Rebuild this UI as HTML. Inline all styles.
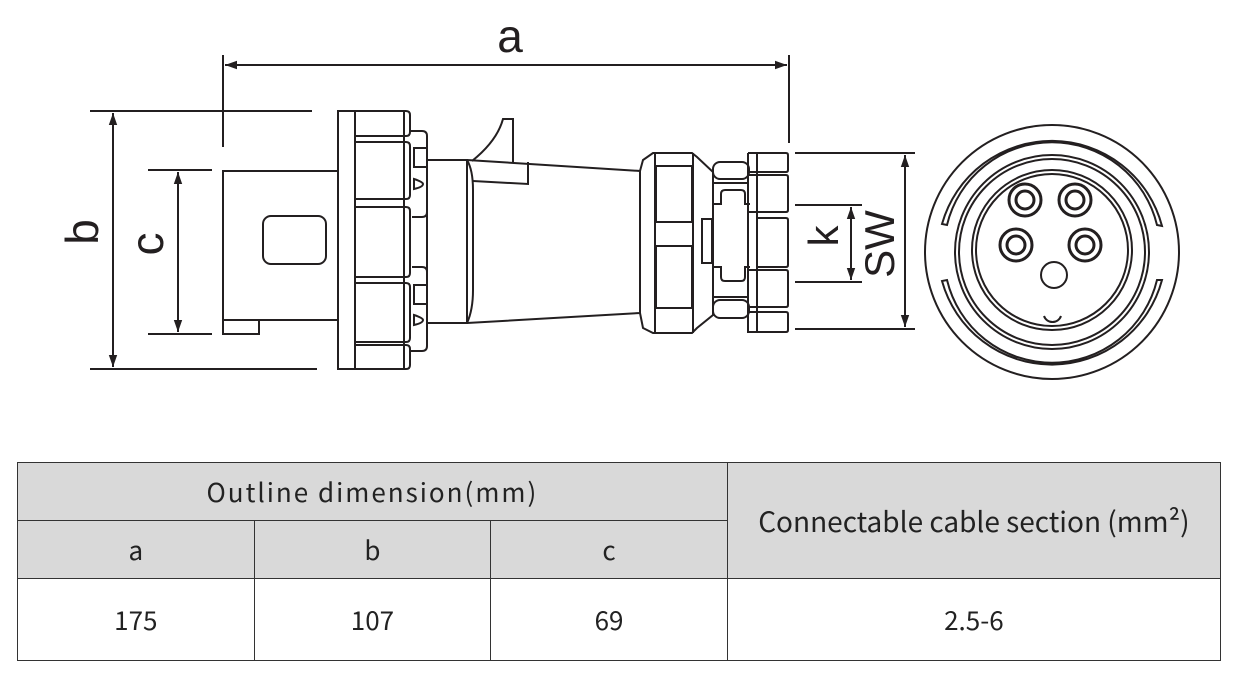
<!DOCTYPE html>
<html><head><meta charset="utf-8"><style>
body{margin:0;background:#fff;width:1240px;height:686px;overflow:hidden;position:relative;font-family:"Liberation Sans","Noto Sans CJK SC",sans-serif}
svg{position:absolute;left:0;top:0}
table{position:absolute;left:17px;top:462px;border-collapse:collapse;width:1204px;font-family:"Noto Sans CJK SC","Liberation Sans",sans-serif;font-weight:400;color:#222}
td{border:1.5px solid #333;text-align:center;font-size:26px;padding:0}
.g{background:#d9d9d9}
</style></head><body>
<svg width="1240" height="440" viewBox="0 0 1240 440" fill="none" stroke="#231f20" stroke-width="2">
<defs><marker id="ar" viewBox="0 0 10 10" refX="10" refY="5" markerWidth="12" markerHeight="12" markerUnits="userSpaceOnUse" orient="auto-start-reverse"><path d="M0,1.5 L10,5 L0,8.5 z" fill="#231f20" stroke="none"/></marker></defs>
<line x1="223" y1="55" x2="223" y2="147"/><line x1="789" y1="55" x2="789" y2="143"/>
<line x1="225" y1="65" x2="787" y2="65" marker-start="url(#ar)" marker-end="url(#ar)"/>
<text x="510" y="52" font-size="46" fill="#231f20" stroke="none" text-anchor="middle" font-family="Liberation Sans">a</text>
<line x1="90" y1="111" x2="312" y2="111"/><line x1="90" y1="369" x2="317" y2="369"/>
<line x1="113" y1="113" x2="113" y2="367" marker-start="url(#ar)" marker-end="url(#ar)"/>
<text transform="translate(98,232) rotate(-90)" font-size="46" fill="#231f20" stroke="none" text-anchor="middle" font-family="Liberation Sans">b</text>
<line x1="148" y1="170" x2="212" y2="170"/><line x1="148" y1="334" x2="212" y2="334"/>
<line x1="178" y1="172" x2="178" y2="332" marker-start="url(#ar)" marker-end="url(#ar)"/>
<text transform="translate(163,244) rotate(-90)" font-size="46" fill="#231f20" stroke="none" text-anchor="middle" font-family="Liberation Sans">c</text>
<rect x="223" y="171" width="115" height="149"/>
<rect x="223" y="320" width="36" height="14"/>
<rect x="263" y="216" width="63" height="48" rx="8"/>
<rect x="338" y="111" width="17" height="258"/>
<path d="M355,111 H406 q4,0 4,4 v17 q0,4 -4,4 H355"/>
<path d="M355,142 H406 q4,0 4,4 v49 q0,4 -4,4 H355"/>
<path d="M355,207 H406 q4,0 4,4 v62 q0,4 -4,4 H355"/>
<path d="M355,283 H406 q4,0 4,4 v51 q0,4 -4,4 H355"/>
<path d="M355,345 H406 q4,0 4,4 v16 q0,4 -4,4 H355"/>
<line x1="404" y1="111" x2="404" y2="369"/>
<path d="M410,131 H422 q5,0 5,5 V212 q0,5 -5,5 H412"/>
<path d="M412,267 H422 q5,0 5,5 V346 q0,5 -5,5 H410"/>
<rect x="414" y="148" width="13" height="19"/><path d="M414,179 q9,3 9,5 q0,3 -9,5 z"/>
<rect x="414" y="285" width="13" height="19"/><path d="M414,315 q9,3 9,5 q0,3 -9,5 z"/>
<rect x="427" y="160" width="40" height="163"/>
<path d="M467,160 L640,171 L640,313 L467,323"/>
<path d="M467,160 q6,10 6,30 v100 q0,20 -6,33"/>
<path d="M472,161 q25,-20 31,-42 h10 v43"/>
<path d="M473,181 l55,3 v-22"/>
<path d="M640,171 L643,160 L653,153 H692 L697,157 L713,172 V315 L697,328 L692,333 H653 L643,328 L640,313"/>
<line x1="655" y1="153" x2="655" y2="333"/><line x1="693" y1="153" x2="693" y2="333"/>
<rect x="656" y="166" width="36" height="56"/><rect x="656" y="246" width="36" height="62"/>
<rect x="702" y="219" width="10" height="44"/>
<rect x="713" y="162" width="36" height="17" rx="7"/>
<rect x="713" y="300" width="36" height="18" rx="7"/>
<path d="M713,183 H748 M713,297 H748"/>
<path d="M713,204 h8 v-10 q0,-4 4,-4 h16 q4,0 4,4 v10 h5 M713,267 h8 v10 q0,4 4,4 h16 q4,0 4,-4 v-10 h5"/>
<line x1="713" y1="179" x2="713" y2="300"/>
<line x1="748" y1="153" x2="748" y2="333"/><line x1="757" y1="153" x2="757" y2="333"/>
<path d="M748,153 H786 q2,0 2,2 v15 q0,2 -2,2 H748"/>
<path d="M748,175 H786 q2,0 2,2 v33 q0,2 -2,2 H748"/>
<path d="M757,218 H786 q2,0 2,2 v45 q0,2 -2,2 H757"/>
<path d="M748,270 H786 q2,0 2,2 v33 q0,2 -2,2 H748"/>
<path d="M748,312 H786 q2,0 2,2 v16 q0,2 -2,2 H748"/>
<line x1="795" y1="153" x2="915" y2="153"/><line x1="795" y1="329" x2="915" y2="329"/>
<line x1="905" y1="155" x2="905" y2="327" marker-start="url(#ar)" marker-end="url(#ar)"/>
<line x1="795" y1="205" x2="862" y2="205"/><line x1="795" y1="282" x2="862" y2="282"/>
<line x1="851" y1="207" x2="851" y2="280" marker-start="url(#ar)" marker-end="url(#ar)"/>
<text transform="translate(838,236) rotate(-90)" font-size="42" fill="#231f20" stroke="none" text-anchor="middle" font-family="Liberation Sans">k</text>
<text transform="translate(894,244) rotate(-90)" font-size="42" fill="#231f20" stroke="none" text-anchor="middle" font-family="Liberation Sans">SW</text>
<circle cx="1052" cy="252" r="127"/>
<path d="M947,225 A108,108 0 0 1 1157,225 L1162,226 A114,114 0 0 0 942,224 Z"/>
<path d="M947,280 A108,108 0 0 0 1157,280 L1162,280 A114,114 0 0 1 942,281 Z"/>
<circle cx="1052" cy="252" r="97"/>
<circle cx="1052" cy="252" r="93"/>
<circle cx="1052" cy="250" r="80"/>
<circle cx="1052" cy="250" r="76"/>
<path d="M1044,316 a9,9 0 0 0 17,0"/>
<g stroke-width="3">
<circle cx="1025" cy="200" r="16"/><circle cx="1025" cy="200" r="9"/>
<circle cx="1075" cy="200" r="16"/><circle cx="1075" cy="200" r="9"/>
<circle cx="1016" cy="245" r="16"/><circle cx="1016" cy="245" r="9"/>
<circle cx="1085" cy="245" r="16"/><circle cx="1085" cy="245" r="9"/>
</g>
<circle cx="1054" cy="275" r="13"/>
</svg>
<table>
<tr style="height:58px"><td class="g" colspan="3" style="letter-spacing:2px">Outline dimension(mm)</td><td class="g" rowspan="2" style="width:493px;font-size:28px">Connectable cable section (mm²)</td></tr>
<tr style="height:58px"><td class="g" style="width:236px">a</td><td class="g" style="width:236px">b</td><td class="g" style="width:236px">c</td></tr>
<tr style="height:82px"><td>175</td><td>107</td><td>69</td><td>2.5-6</td></tr>
</table>
</body></html>
